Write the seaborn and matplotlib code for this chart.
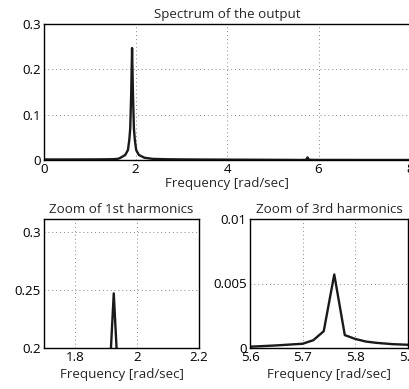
import matplotlib
matplotlib.use("Agg")
import matplotlib.pyplot as plt
import seaborn as sns
import pandas as pd

# ---- data ----
freq = [0.0, 0.5, 1.0, 1.2, 1.4, 1.5, 1.6, 1.655, 1.775, 1.835, 1.865,
        1.885, 1.905, 1.925, 1.945, 1.965, 1.985, 2.015, 2.075, 2.195,
        2.375, 2.7, 3.0, 3.5, 4.0, 4.5, 5.0, 5.3, 5.5, 5.6, 5.65, 5.7,
        5.72, 5.74, 5.76, 5.78, 5.8, 5.82, 5.84, 5.87, 5.9, 6.0, 6.3,
        7.0, 7.5, 8.0]
amp = [0.0012, 0.0012, 0.0013, 0.0014, 0.0016, 0.0018, 0.0024, 0.0040,
       0.0110, 0.0220, 0.0450, 0.0700, 0.1430, 0.2470, 0.1430, 0.0700,
       0.0450, 0.0220, 0.0110, 0.0050, 0.0025, 0.0016, 0.0013, 0.0010,
       0.0008, 0.0006, 0.0004, 0.0003, 0.00015, 0.0001, 0.0002, 0.00033,
       0.0006, 0.0013, 0.0057, 0.0010, 0.0007, 0.0005, 0.0004, 0.0003,
       0.00025, 0.0002, 0.0002, 0.0001, 0.0001, 0.0001]

titles = ["Spectrum of the output", "Zoom of 1st harmonics", "Zoom of 3rd harmonics"]
xlabel = "Frequency [rad/sec]"

top_xticks = [0, 2, 4, 6, 8]
top_xlabels = ["0", "2", "4", "6", "8"]
top_yticks = [0, 0.1, 0.2, 0.3]
top_ylabels = ["0", "0.1", "0.2", "0.3"]

z1_xticks = [1.8, 2.0, 2.2]
z1_xlabels = ["1.8", "2", "2.2"]
z1_yticks = [0.2, 0.25, 0.3]
z1_ylabels = ["0.2", "0.25", "0.3"]

z3_xticks = [5.6, 5.7, 5.8, 5.9]
z3_xlabels = ["5.6", "5.7", "5.8", "5.9"]
z3_yticks = [0, 0.005, 0.01]
z3_ylabels = ["0", "0.005", "0.01"]

df = pd.DataFrame({"freq": freq, "amp": amp})

sns.set_style("white")
plt.rcParams["font.family"] = ["Open Sans", "DejaVu Sans"]
FS = 9.6
plt.rcParams["font.size"] = FS

fig = plt.figure(figsize=(4.09, 3.89), dpi=100)
W, H = 409.0, 389.0

def make_ax(l, r, t, b):
    return fig.add_axes([l / W, 1 - b / H, (r - l) / W, (b - t) / H])

ax0 = make_ax(44, 410, 24, 160)
ax1 = make_ax(44, 199, 219, 348)
ax2 = make_ax(250, 408, 219, 348)

specs = [
    (ax0, (0, 8), (0, 0.3), top_xticks, top_xlabels, top_yticks, top_ylabels, titles[0], 0.5),
    (ax1, (1.7, 2.2), (0.2, 0.311), z1_xticks, z1_xlabels, z1_yticks, z1_ylabels, titles[1], 2.5),
    (ax2, (5.6, 5.9), (0, 0.01), z3_xticks, z3_xlabels, z3_yticks, z3_ylabels, titles[2], 2.5),
]

for ax, xl, yl, xt, xtl, yt, ytl, title, lp in specs:
    sns.lineplot(data=df, x="freq", y="amp", ax=ax, color="#1a1a1a",
                 linewidth=1.7, estimator=None, sort=True)
    ax.set_xlim(*xl)
    ax.set_ylim(*yl)
    ax.set_xticks(xt)
    ax.set_xticklabels(xtl)
    ax.set_yticks(yt)
    ax.set_yticklabels(ytl)
    ax.grid(True, linestyle=(0, (1, 3)), color="#888888", linewidth=0.7)
    ax.tick_params(direction="in", length=3.5, width=0.8, colors="black",
                   labelsize=FS, pad=2.5)
    for s in ax.spines.values():
        s.set_color("black")
        s.set_linewidth(1.0)
    ax.set_xlabel(xlabel, fontsize=FS, labelpad=lp)
    ax.set_ylabel("")
    ax.set_title(title, fontsize=FS, pad=4)

fig.savefig("out.png", dpi=100, facecolor="white")
